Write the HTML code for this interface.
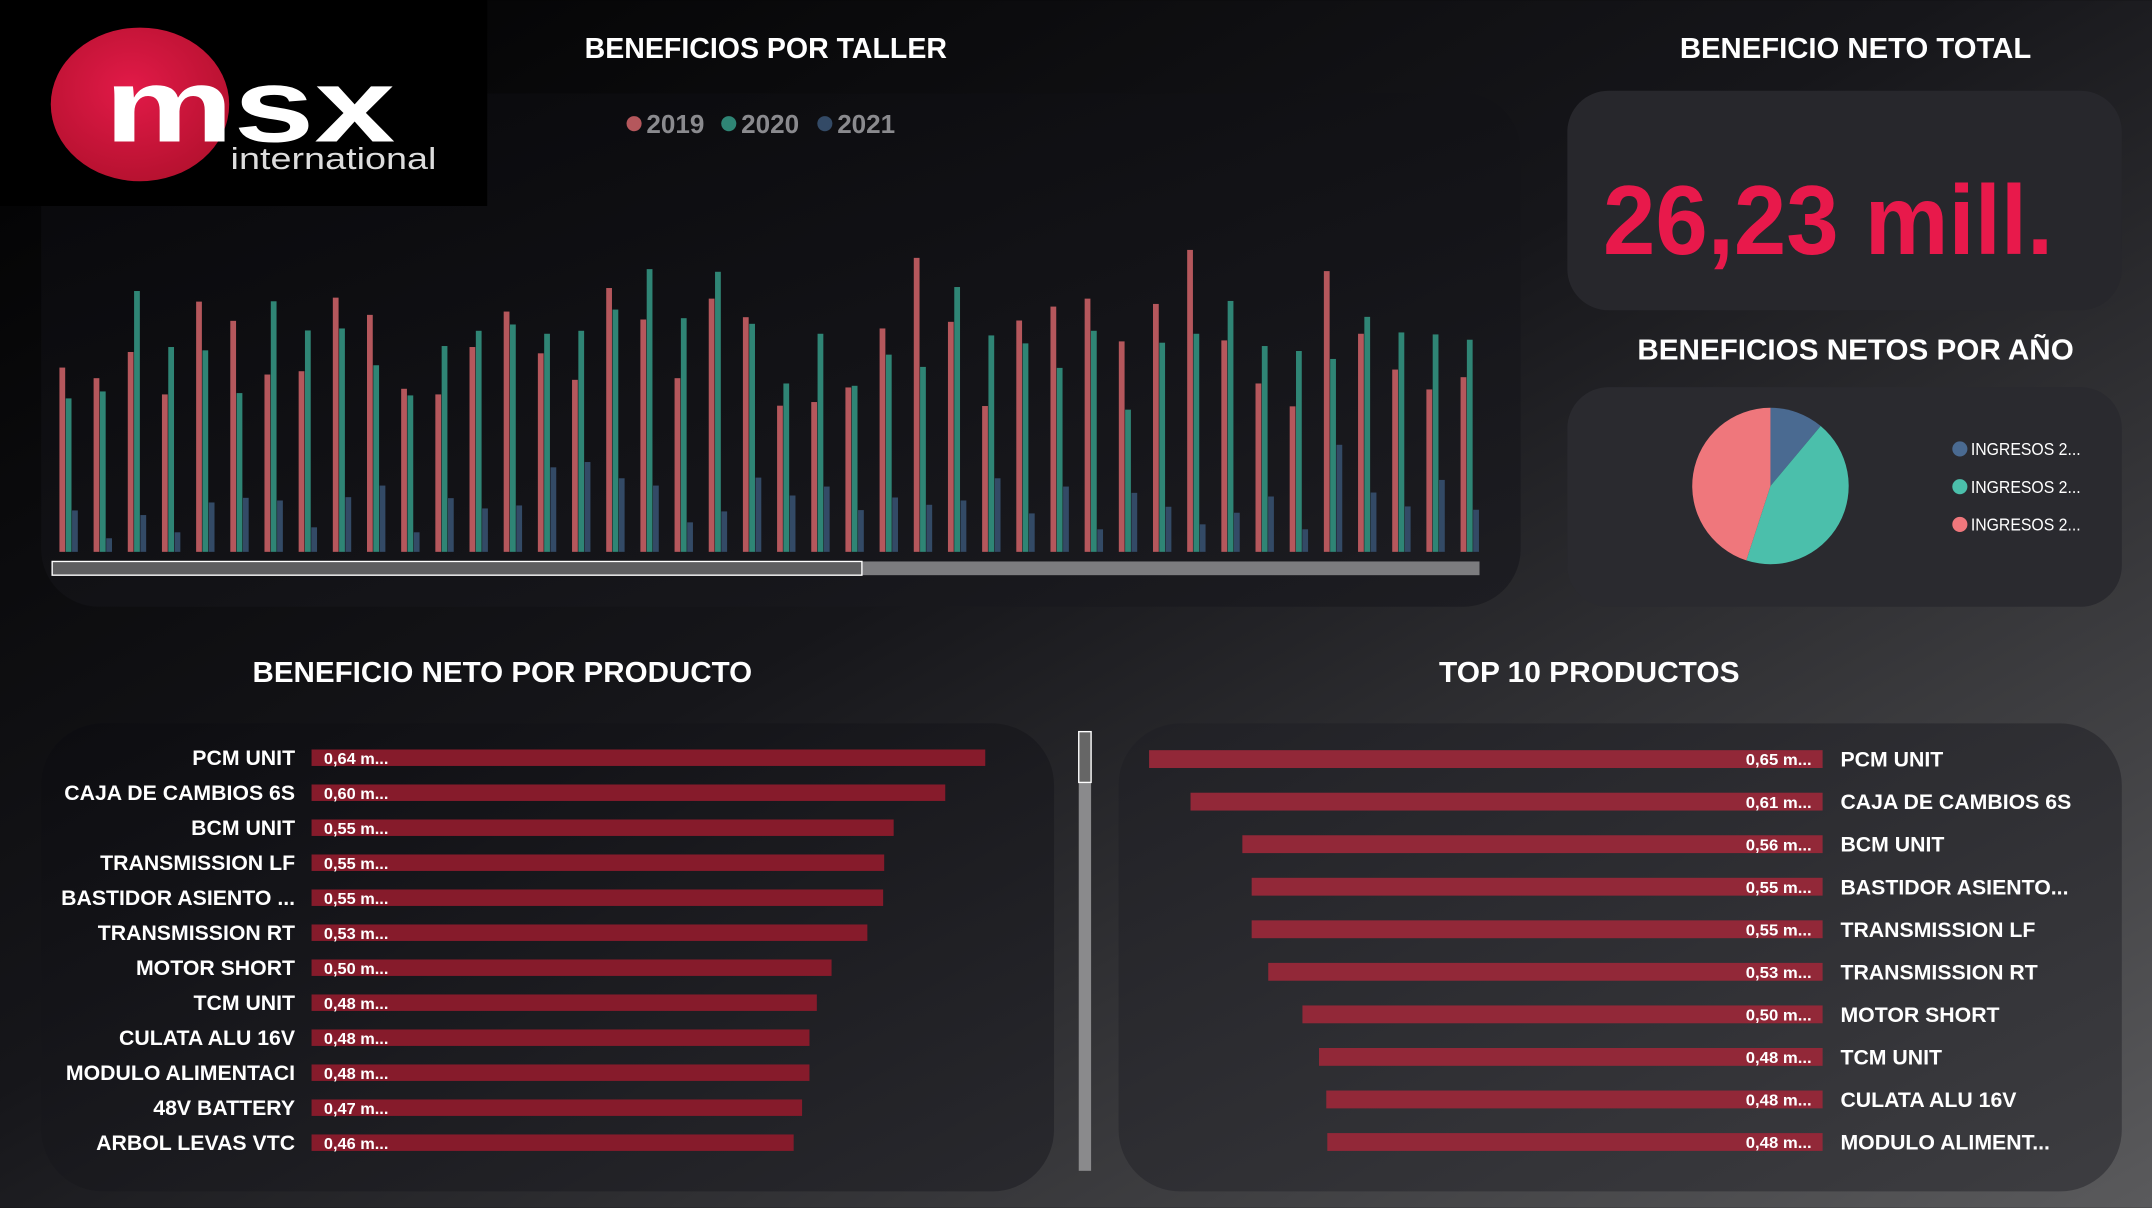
<!DOCTYPE html>
<html><head><meta charset="utf-8">
<style>
html,body{margin:0;padding:0;background:#000;}
body{width:2152px;height:1208px;overflow:hidden;}
svg{display:block;font-family:"Liberation Sans",sans-serif;}
</style></head>
<body>
<svg id="dash" width="2152" height="1208" viewBox="0 0 1568 880" xmlns="http://www.w3.org/2000/svg">
<defs>
<linearGradient id="bg" x1="0" y1="0" x2="1" y2="1">
<stop offset="0" stop-color="#000"/><stop offset="0.45" stop-color="#16161a"/><stop offset="1" stop-color="#5a5a5c"/>
</linearGradient>
<linearGradient id="panelL" x1="0" y1="0" x2="1" y2="1">
<stop offset="0" stop-color="#0c0c10"/><stop offset="1" stop-color="#26262b"/>
</linearGradient>
<linearGradient id="panelR" x1="0" y1="0" x2="1" y2="1">
<stop offset="0" stop-color="#202025"/><stop offset="1" stop-color="#3a3a3e"/>
</linearGradient>
<linearGradient id="panelTop" x1="0" y1="0" x2="1" y2="1">
<stop offset="0" stop-color="#08080b"/><stop offset="1" stop-color="#1c1c21"/>
</linearGradient>
<radialGradient id="logoRed" cx="0.45" cy="0.4" r="0.7">
<stop offset="0" stop-color="#e21a48"/><stop offset="1" stop-color="#b0102c"/>
</radialGradient>
</defs>
<rect x="0" y="0" width="1568" height="880" fill="url(#bg)"/>

<!-- panels -->
<rect x="30" y="68" width="1078" height="374" rx="42" fill="url(#panelTop)" opacity="0.9"/>
<rect x="1142" y="66" width="404" height="160" rx="30" fill="#27272c"/>
<rect x="1142" y="282" width="404" height="160" rx="30" fill="#2a2a2f"/>
<rect x="30" y="527" width="738" height="341" rx="45" fill="url(#panelL)" opacity="0.85"/>
<rect x="815" y="527" width="731" height="341" rx="45" fill="url(#panelR)" opacity="0.9"/>

<!-- logo -->
<g>
<rect x="0" y="0" width="355" height="150" fill="#000"/>
<ellipse cx="102" cy="76" rx="65" ry="56" fill="url(#logoRed)"/>
<text x="76" y="103" font-size="76" font-weight="bold" fill="#fff" textLength="212" lengthAdjust="spacingAndGlyphs">msx</text>
<text x="168" y="123" font-size="22" fill="#ddd" textLength="150" lengthAdjust="spacingAndGlyphs">international</text>
</g>

<!-- titles -->
<text x="558" y="42" text-anchor="middle" font-size="21" font-weight="bold" fill="#fff" textLength="264" lengthAdjust="spacingAndGlyphs">BENEFICIOS POR TALLER</text>
<text x="1352" y="42" text-anchor="middle" font-size="21" font-weight="bold" fill="#fff" textLength="256" lengthAdjust="spacingAndGlyphs">BENEFICIO NETO TOTAL</text>
<text x="1332" y="185" text-anchor="middle" font-size="72" font-weight="bold" fill="#e8194b" textLength="328" lengthAdjust="spacingAndGlyphs">26,23 mill.</text>
<text x="1352" y="262" text-anchor="middle" font-size="21" font-weight="bold" fill="#fff" textLength="318" lengthAdjust="spacingAndGlyphs">BENEFICIOS NETOS POR AÑO</text>
<text x="366" y="497" text-anchor="middle" font-size="21" font-weight="bold" fill="#fff" textLength="364" lengthAdjust="spacingAndGlyphs">BENEFICIO NETO POR PRODUCTO</text>
<text x="1158" y="497" text-anchor="middle" font-size="21" font-weight="bold" fill="#fff" textLength="219" lengthAdjust="spacingAndGlyphs">TOP 10 PRODUCTOS</text>

<!-- bar chart legend -->
<g font-size="19" font-weight="bold" fill="#8a8a8e">
<g><circle cx="462" cy="90" r="5.5" fill="#b5575c"/><text x="471" y="97">2019</text></g>
<g><circle cx="531" cy="90" r="5.5" fill="#2f8575"/><text x="540" y="97">2020</text></g>
<g><circle cx="601" cy="90" r="5.5" fill="#334a66"/><text x="610" y="97">2021</text></g>
</g>
<g id="bars"></g>
<g>
<rect x="38" y="409" width="1040" height="10" fill="#7c7c7f"/>
<rect x="38" y="409" width="590" height="10" fill="#5e5e60" stroke="#fff" stroke-width="1"/>
</g>

<!-- pie -->
<g id="pie"></g>
<g id="pieLegend"></g>

<!-- product bars -->
<g id="prodL"></g>
<g>
<rect x="786" y="533" width="9" height="320" fill="#8a8a8c"/>
<rect x="786" y="533" width="9" height="37" fill="#666" stroke="#fff" stroke-width="1"/>
</g>
<g id="prodR"></g>
</svg>

<script>
// ---- Beneficios por taller (grouped bars) ----
const v2019 = [556,524,603,475,755,697,535,545,767,715,492,475,618,725,599,519,796,701,524,764,708,441,452,496,674,887,694,440,698,740,764,635,748,911,638,508,439,847,658,550,490,527];
const v2020 = [463,484,787,618,608,479,756,668,674,563,472,621,667,686,658,667,731,853,705,845,688,508,658,501,595,558,799,653,629,555,667,429,631,658,757,621,606,582,709,662,656,640];
const v2021 = [125,41,111,59,149,163,155,74,165,200,59,162,131,140,255,271,222,200,89,122,224,170,197,126,164,142,155,222,116,197,68,178,136,83,118,167,68,323,179,137,217,127];
const barMax = 911;

// ---- Pie ----
const pieLabels = ["INGRESOS 2...","INGRESOS 2...","INGRESOS 2..."];
const pieValues = [11.1, 43.9, 45.0];

// ---- Beneficio neto por producto ----
const prodNames = ["PCM UNIT","CAJA DE CAMBIOS 6S","BCM UNIT","TRANSMISSION LF","BASTIDOR ASIENTO ...","TRANSMISSION RT","MOTOR SHORT","TCM UNIT","CULATA ALU 16V","MODULO ALIMENTACI","48V BATTERY","ARBOL LEVAS VTC"];
const prodValues = [0.640,0.602,0.553,0.544,0.543,0.528,0.494,0.480,0.473,0.473,0.466,0.458];
const prodLabels = ["0,64 m...","0,60 m...","0,55 m...","0,55 m...","0,55 m...","0,53 m...","0,50 m...","0,48 m...","0,48 m...","0,48 m...","0,47 m...","0,46 m..."];

// ---- Top 10 ----
const topNames = ["PCM UNIT","CAJA DE CAMBIOS 6S","BCM UNIT","BASTIDOR ASIENTO...","TRANSMISSION LF","TRANSMISSION RT","MOTOR SHORT","TCM UNIT","CULATA ALU 16V","MODULO ALIMENT..."];
const topValues = [0.650,0.610,0.560,0.551,0.551,0.535,0.502,0.486,0.479,0.478];
const topLabels = ["0,65 m...","0,61 m...","0,56 m...","0,55 m...","0,55 m...","0,53 m...","0,50 m...","0,48 m...","0,48 m...","0,48 m..."];

const NS = "http://www.w3.org/2000/svg";
function mk(tag, attrs, parent){ const e=document.createElementNS(NS,tag); for(const k in attrs) e.setAttribute(k,attrs[k]); parent.appendChild(e); return e; }

// grouped bars
(function(){
  const g = document.getElementById('bars');
  const base = 402, plotH = 220, x0 = 43.3, step = 24.9, bw = 4.2;
  const yScale = v => plotH * v / barMax;
  const series = [[v2019,'#b5575c','2019'],[v2020,'#2f8575','2020'],[v2021,'#334a66','2021']];
  for (let i=0;i<v2019.length;i++){
    series.forEach((s,j)=>{
      const h = yScale(s[0][i]);
      const r = mk('rect',{x:x0+i*step+j*4.6, y:base-h, width:bw, height:h, fill:s[1]}, g);
      
      
    });
  }
})();

// pie
(function(){
  const g = document.getElementById('pie');
  const cx=1290, cy=354, r=57;
  const colors=['#4a6a91','#4bbfab','#ef777c'];
  const total = pieValues.reduce((a,b)=>a+b,0);
  let a0 = 0;
  pieValues.forEach((v,i)=>{
    const a1 = a0 + v/total*Math.PI*2;
    const p = (a)=>[cx+r*Math.sin(a), cy-r*Math.cos(a)];
    const [x1,y1]=p(a0),[x2,y2]=p(a1);
    const large = (a1-a0)>Math.PI?1:0;
    const s = mk('path',{d:`M${cx},${cy}L${x1},${y1}A${r},${r} 0 ${large} 1 ${x2},${y2}Z`, fill:colors[i]}, g);
    
    
    a0 = a1;
  });
  const lg = document.getElementById('pieLegend');
  pieLabels.forEach((t,i)=>{
    const y = 327 + i*27.5;
    const e = mk('g',{},lg);
    
    
    mk('circle',{cx:1428, cy:y, r:5.5, fill:colors[i]}, e);
    const tx = mk('text',{x:1436, y:y+4.5, 'font-size':13, fill:'#fff', textLength:80, lengthAdjust:'spacingAndGlyphs'}, e);
    tx.textContent = t;
  });
})();

// left product bars
(function(){
  const g = document.getElementById('prodL');
  const x0 = 227, pxPer = 767, y0 = 552, step = 25.5, bh = 12;
  prodValues.forEach((v,i)=>{
    const y = y0 + i*step;
    const row = mk('g',{},g);
    
    
    const lab = mk('text',{x:215, y:y+5.5, 'text-anchor':'end', 'font-size':15.5, 'font-weight':'bold', fill:'#fff'}, row);
    lab.textContent = prodNames[i];
    mk('rect',{x:x0, y:y-bh/2, width:v*pxPer, height:bh, fill:'#861b2b'}, row);
    const vl = mk('text',{x:x0+9, y:y+4.5, 'font-size':11.5, 'font-weight':'bold', fill:'#fff', textLength:47, lengthAdjust:'spacingAndGlyphs'}, row);
    vl.textContent = prodLabels[i];
  });
})();

// right top10 bars
(function(){
  const g = document.getElementById('prodR');
  const xEnd = 1328, pxPer = 755, y0 = 553, step = 31, bh = 13;
  topValues.forEach((v,i)=>{
    const y = y0 + i*step;
    const row = mk('g',{},g);
    
    
    const w = v*pxPer;
    mk('rect',{x:xEnd-w, y:y-bh/2, width:w, height:bh, fill:'#922838'}, row);
    const vl = mk('text',{x:1320, y:y+4.5, 'text-anchor':'end', 'font-size':11.5, 'font-weight':'bold', fill:'#fff', textLength:48, lengthAdjust:'spacingAndGlyphs'}, row);
    vl.textContent = topLabels[i];
    const lab = mk('text',{x:1341, y:y+5.5, 'font-size':15.5, 'font-weight':'bold', fill:'#fff'}, row);
    lab.textContent = topNames[i];
  });
})();
</script>
</body></html>
